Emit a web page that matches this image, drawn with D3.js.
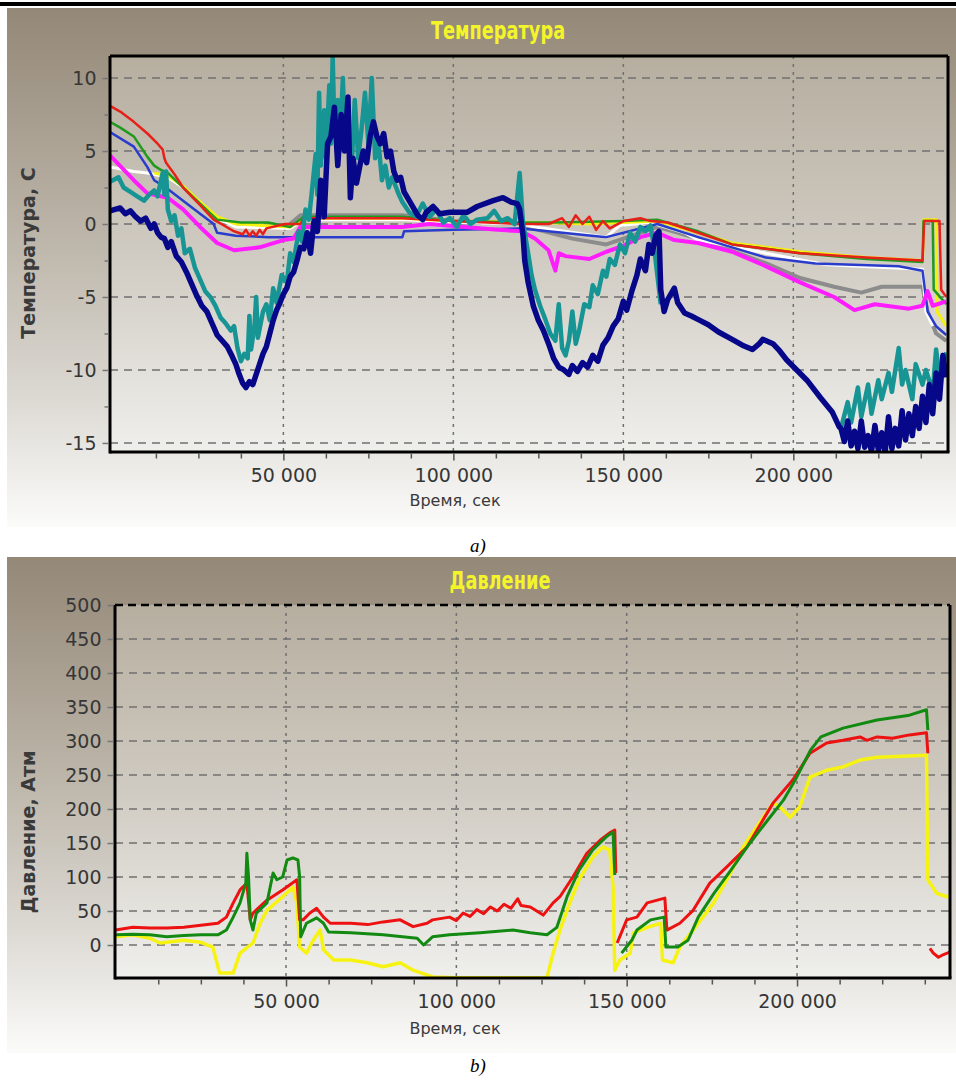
<!DOCTYPE html>
<html>
<head>
<meta charset="utf-8">
<script src="https://cdn.jsdelivr.net/npm/d3@7"></script>
<style>
  body { margin: 0; background: #fff; }
  svg { display: block; }
  .tick text { font-family: "DejaVu Sans", Verdana, sans-serif; font-size: 19px; fill: #363636; }
</style>
</head>
<body>
<svg id="page" width="956" height="1084"></svg>
<script>
// ---- data: time in thousands of seconds, value ----
const timeTicks = [50000, 100000, 150000, 200000];
const tempTicks = [-15, -10, -5, 0, 5, 10];
const pressTicks = [0, 50, 100, 150, 200, 250, 300, 350, 400, 450, 500];

const tempRed = [[-1,8.1],[2,7.7],[6,7.0],[10,6.2],[13,5.5],[14.5,5.1],[15,4.5],[15.5,4.2],[18,3.4],[20.5,2.5],[25.5,1.3],[29.5,0.3],[32.5,-0.1],[35.5,-0.5],[38,-0.7],[39,-0.4],[40,-0.8],[41,-0.5],[42,-0.8],[43,-0.4],[44,-0.7],[45,-0.3],[50.5,0.0],[55,0.0],[56,0.4],[85,0.4],[100,0.2],[120,0.0],[128,0.0],[132,0.4],[134,-0.2],[136,0.6],[138,0.0],[140,0.5],[142,-0.4],[144,0.2],[146,-0.3],[150,0.2],[155,0.4],[158,0.2],[163,0.1],[172,-0.6],[182,-1.4],[202,-2.0],[221.5,-2.3],[238,-2.5],[238.5,0.2],[243,0.2],[243.5,-4.5],[245,-5.0]];
const tempGreen = [[-1,7.0],[2,6.6],[6,6.0],[10,4.6],[12,4.0],[14,3.7],[16,3.5],[20.5,2.5],[25.5,1.4],[30.5,0.3],[37.5,0.1],[45.5,0.1],[52,-0.2],[56,0.5],[85,0.5],[100,0.2],[120,0.1],[130,0.1],[150,0.2],[160,0.3],[172,-0.5],[182,-1.4],[202,-2.0],[221.5,-2.4],[238,-2.6],[238.3,0.2],[241,0.2],[241.3,-4.5],[245,-5.5]];
const tempYellow = [[12,3.5],[16,3.3],[20.5,2.6],[25.5,1.5],[30.5,0.5],[36,0.0],[44,-0.1],[52,-0.2],[56,0.4],[85,0.4],[100,0.2],[125,0.1],[140,0.0],[150,0.1],[160,0.2],[172,-0.6],[182,-1.3],[202,-1.9],[221.5,-2.3],[238,-2.5],[238.4,0.3],[242,0.3],[242.3,-6],[245,-7]];
const tempWhite = [[-1,3.9],[6,3.6],[10,3.5],[16,3.2],[20.5,2.5],[25.5,1.5],[30.5,0.4],[36,-0.2],[52,-0.3],[56,0.3],[85,0.3],[100,0.1],[120,0.0],[124,-0.2],[145,-0.9],[149,-0.1],[158,0.1],[168,-0.6],[172,-1.1],[192,-2.0],[210,-2.8],[238,-3.1],[239,-6],[241,-7]];
const tempBlue = [[-1,6.3],[6,5.3],[10,3.9],[12,3.0],[16,2.4],[20.5,1.6],[25.5,0.7],[29.5,0.0],[30.5,-0.6],[36,-0.8],[45.5,-0.9],[51,-0.9],[56,-0.9],[85,-0.9],[85.5,-0.5],[100,-0.4],[120,-0.3],[145,-0.9],[160,0.0],[172,-0.9],[192,-2.3],[206.5,-2.7],[231,-2.9],[238,-3.2],[239.5,-6.0],[242,-7.0],[245,-7.6]];
const tempMagenta = [[-1,4.7],[6,3.0],[10,2.1],[16,1.8],[20.5,1.0],[25.5,-0.2],[30.5,-1.3],[35.5,-1.8],[43,-1.6],[50,-1.1],[53,-1.0],[55,-0.2],[85,-0.2],[93,0.0],[113,-0.4],[120,-0.5],[124,-1.0],[128,-1.8],[130,-3.2],[131,-2.0],[133,-2.2],[140,-2.4],[145,-1.9],[150,-1.5],[155,-0.9],[160,-0.6],[165,-1.1],[172,-1.3],[182,-1.9],[192,-2.9],[202,-4.0],[212,-5.0],[218,-5.9],[224,-5.5],[234,-5.8],[238,-5.6],[239.5,-4.6],[241,-5.6],[245,-5.3]];
const tempGray = [[50,-0.4],[55,0.6],[85,0.6],[100,0.2],[120,0.0],[125,-0.4],[135,-1.0],[145,-1.4],[150,-1.0],[160,-0.2],[172,-1.0],[192,-2.7],[202,-3.7],[212,-4.3],[220,-4.7],[226,-4.3],[238,-4.3],[239.5,-6.0],[242,-7.5],[245,-8.0]];
const tempTeal = [[-1,2.9],[1.5,3.2],[3,2.5],[5,2.2],[7,1.9],[9,1.6],[10.5,2.0],[12,2.3],[13,1.9],[14,3.0],[14.5,3.5],[15,2.0],[15.5,3.6],[16,1.0],[17,0.2],[18,0.6],[19,-0.8],[20,-0.3],[21,-2.0],[22.5,-1.7],[24,-3.0],[25.5,-3.8],[27,-4.6],[28.5,-5.0],[30,-5.6],[31.5,-6.4],[33,-6.8],[34.5,-7.3],[35.5,-7.0],[36.5,-8.5],[37.5,-9.4],[38.5,-8.9],[39.5,-9.2],[40,-6.3],[40.5,-8.6],[41.5,-7.0],[42,-5.0],[42.5,-7.8],[44,-6.0],[45,-5.5],[46,-6.6],[47,-4.4],[48,-5.4],[49.5,-3.5],[51,-4.0],[52,-2.0],[53,-2.6],[54.5,-0.5],[55.5,-1.2],[56.5,1.0],[57.5,0.3],[58.5,2.5],[59.5,4.8],[60,2.0],[60.5,9.0],[61,4.0],[62,7.8],[62.5,4.5],[63.5,9.5],[64,5.5],[64.5,11.5],[65,6.5],[66,8.5],[66.5,5.0],[67.5,10.0],[68,6.0],[69,7.0],[70,3.5],[71,8.5],[72,4.5],[73,6.5],[74,9.0],[75,5.5],[76,10.0],[77,4.5],[78,5.5],[79,3.0],[80,4.0],[81,2.5],[82,3.2],[84,2.0],[85,1.5],[87,0.8],[89,0.5],[91,1.4],[93,0.5],[95,1.0],[97,0.1],[99,0.4],[101,-0.2],[103,0.6],[105,0.0],[107,0.3],[110,0.4],[112,0.9],[114,0.2],[116,0.4],[118,0.0],[119.5,3.5],[120.5,0.0],[121,-0.6],[122,-2.0],[123,-3.5],[124,-4.5],[125.5,-5.6],[127,-6.5],[128.5,-7.5],[130,-8.0],[131,-5.5],[132,-8.5],[133,-9.0],[134,-8.0],[135,-6.0],[136,-8.2],[137,-7.3],[138.5,-5.5],[140,-5.7],[141,-4.2],[142.5,-4.8],[144,-3.2],[145,-3.6],[146,-2.4],[147.5,-2.8],[149,-1.4],[150.5,-2.0],[152,-0.6],[153.5,-1.2],[155,-0.2],[156.5,-0.5],[158,-0.1],[159,-1.5],[160,-3.5],[161,-5.5],null,[214,-14.0],[216,-12.2],[217,-13.6],[219,-11.2],[220,-13.2],[222,-11.0],[223,-13.0],[225,-10.7],[226,-12.0],[228,-10.2],[229,-11.5],[231,-8.5],[232,-11.0],[233,-10.0],[235,-12.0],[236,-9.6],[238,-11.0],[239,-10.0],[241,-11.5],[242,-8.6],[243,-10.5],[245,-8.8]];
const tempNavy = [[-1,0.9],[2,1.1],[3.5,0.7],[5,0.9],[6.5,0.5],[8,0.2],[9.5,0.4],[11,-0.3],[12,0.0],[13,-0.6],[14,-0.9],[15,-1.0],[16,-1.6],[17,-1.2],[18.5,-2.2],[20,-2.6],[21.5,-3.3],[23,-4.1],[24.5,-4.9],[26,-5.6],[27.5,-6.0],[29,-6.8],[30.5,-7.6],[32,-8.0],[33.5,-8.4],[35,-9.1],[36,-9.6],[37,-10.3],[38,-10.9],[39,-11.2],[40,-10.8],[41,-11.0],[42,-10.3],[43,-9.6],[44,-8.9],[45,-8.4],[46,-7.5],[47,-6.6],[48,-5.9],[49,-5.4],[50,-4.8],[51,-4.4],[52,-3.6],[53,-3.3],[54,-2.5],[55,-1.6],[56,-1.7],[57,-0.6],[58,-2.0],[59,0.2],[60,-0.5],[61,3.0],[62,0.5],[63,5.5],[64,6.0],[65,8.0],[66,4.0],[67,7.5],[68,5.0],[69,8.7],[69.7,1.8],[70.5,4.5],[71.5,2.8],[72.5,4.0],[73.5,5.0],[74.5,4.2],[75.5,6.0],[76.5,7.0],[77.5,6.0],[78.5,5.5],[79.5,6.2],[80.5,4.6],[81.5,5.0],[82.5,3.6],[83.5,3.0],[84.5,3.2],[85.5,2.2],[86.5,1.8],[88,1.2],[89.5,0.6],[91,0.3],[92,0.8],[94,1.2],[96,0.7],[99,0.8],[104,0.8],[107,1.2],[111.7,1.6],[114.6,1.8],[117,1.5],[118.8,1.4],[119.5,1.0],[120.5,-0.8],[121,-2.5],[122,-4.0],[123.5,-5.6],[125,-6.6],[126.5,-7.3],[128,-8.2],[129.5,-9.2],[131,-9.8],[132.5,-10.0],[134,-10.3],[135,-9.7],[136.5,-10.1],[138,-9.5],[139.5,-9.8],[141,-9.0],[142.5,-9.4],[144,-8.3],[145.5,-7.8],[147,-7.0],[148.5,-6.5],[150,-5.3],[151,-5.9],[152.5,-4.6],[154,-3.5],[155,-2.4],[156.5,-3.2],[157.5,-1.4],[158.5,-2.0],[159.5,-0.8],[160.5,-0.5],[161,-4.5],[162,-6.0],[163,-5.2],[165,-4.4],[166,-5.4],[168,-6.1],[170,-6.3],[172.5,-6.6],[175,-6.9],[178,-7.4],[182,-7.9],[185,-8.3],[188,-8.6],[190,-8.2],[191,-7.9],[194,-8.2],[196,-8.7],[198,-9.3],[201,-10.0],[204,-10.7],[208,-11.9],[211.5,-12.9],[213.5,-13.9],[214,-14.0],[215,-14.9],[216,-13.5],[217,-15.2],[218,-14.2],[219,-15.4],[220,-13.5],[221,-15.3],[222,-14.5],[223,-15.6],[224,-13.8],[225,-15.5],[226,-14.3],[227,-15.7],[228,-13.2],[229,-15.4],[230,-14.0],[231,-15.2],[232,-12.8],[233,-14.8],[234,-13.0],[235,-14.5],[236,-12.5],[237,-14.0],[238,-11.8],[239,-13.6],[240,-11.0],[241,-13.0],[242,-10.2],[243,-12.0],[244,-9.0],[245,-10.5]];

const pressRed = [[0,22],[5,26],[10,25],[15,25],[20,26],[25,29],[30,32],[32.5,41],[34.5,62],[36.5,81],[38.5,91],[39.5,37],[40.3,47],[44.4,66],[49,81],[53.2,96],[54,37],[55,37],[57,47],[59,54],[61,41],[63,32],[69,32],[74,30],[78.5,34],[83.5,37],[87.3,27],[91.4,32],[93,37],[98,41],[100,36],[102,47],[104,42],[106,52],[108,46],[110,56],[112,50],[114,60],[116,54],[118,68],[119,58],[121.7,56],[125.5,44],[128.4,62],[130.4,71],[134.2,100],[138.3,135],[142.2,154],[145,165],[146.5,169],[146.8,106],null,[147.2,3],[150,37],[153,41],[156,62],[159,66],[161.2,69],[161.8,22],[165.6,32],[169.5,51],[174.4,91],[179.4,115],[185.3,144],[190,184],[193,209],[198.8,243],[203.8,282],[208.7,297],[213.5,301],[218.5,306],[220.5,301],[223.5,306],[228,304],[233,309],[238,312],[238.4,282],null,[239,-5],[240,-12],[241.5,-18],[243,-14],[245,-10]];
const pressGreen = [[0,15],[5,16],[10,15],[15,12],[20,14],[25,15],[30,15],[32.5,22],[34.5,41],[36.5,62],[38.2,91],[38.5,135],[39,100],[39.5,37],[40.3,22],[41.3,47],[44.4,62],[46.2,106],[47.3,96],[49,100],[50.3,125],[52,128],[53.5,125],[54,100],[54.3,12],[56,32],[59,40],[61,32],[62.5,19],[69,18],[78.5,15],[88.5,10],[90.4,0],[93,12],[98,15],[107,18],[116.6,22],[121.7,18],[126.6,15],[129.5,26],[132.5,71],[136,110],[140,140],[144,159],[146,166],[146.5,103],null,[148.5,-12],[151.5,7],[153,22],[157,37],[161,41],[161.5,-3],[165,-3],[168,7],[171,41],[175.6,76],[180.6,110],[185.3,144],[190.5,178],[196,213],[199.5,243],[204,287],[207,306],[213.5,319],[223.5,331],[233,338],[238,346],[238.4,316]];
const pressYellow = [[0,12],[5,15],[10,10],[13,3],[20,7],[25,4],[28.5,-3],[29.5,-22],[30.5,-41],[34.5,-41],[36.5,-12],[40.3,3],[42.4,32],[44.4,51],[49,71],[52,85],[53.2,62],[54,-3],[56,-12],[58,7],[60,22],[61,-7],[64,-22],[69,-22],[73.8,-26],[78.5,-32],[83.5,-26],[87.3,-37],[93,-47],[100,-48],[126.6,-48],[128.4,-12],[130.4,22],[133.3,62],[136,96],[140,129],[143,144],[145,140],[146,85],[146.5,-37],[148,-22],[151,-12],[152,18],[156,26],[160,32],[160.5,-22],[163.6,-26],[165.6,-3],[169.5,22],[175.5,62],[180.5,106],[184.2,144],[193,209],[195,203],[198,188],[200.8,203],[203.8,247],[208.7,257],[213.5,262],[218.5,272],[223.5,276],[238,279],[238.4,96],[241,76],[244,71],[245,73]];

// ---- page ----
const svg = d3.select("#page");
const defs = svg.append("defs");

const panelGrad = defs.append("linearGradient").attr("id", "panelGrad")
  .attr("x1", 0).attr("y1", 0).attr("x2", 0).attr("y2", 1);
[[0, "#948877"], [0.45, "#bdb6aa"], [0.75, "#dcd9d3"], [1, "#fbfbfa"]]
  .forEach(([o, c]) => panelGrad.append("stop").attr("offset", o).attr("stop-color", c));

const plotGrad = defs.append("linearGradient").attr("id", "plotGrad")
  .attr("x1", 0).attr("y1", 0).attr("x2", 0).attr("y2", 1);
[[0, "#b6ae9f"], [0.5, "#d0cbc2"], [1, "#efefec"]]
  .forEach(([o, c]) => plotGrad.append("stop").attr("offset", o).attr("stop-color", c));

svg.append("rect").attr("x", 0).attr("y", 2).attr("width", 956).attr("height", 4).attr("fill", "#000");

const fmtTime = (d) => d3.format(",")(d).replace(/,/g, " ");

function drawChart(cfg) {
  const g = svg.append("g");
  const p = cfg.plot;

  g.append("rect")
    .attr("x", cfg.panel.x).attr("y", cfg.panel.y)
    .attr("width", cfg.panel.w).attr("height", cfg.panel.h)
    .attr("fill", "url(#panelGrad)");

  // condensed yellow title
  g.append("text")
    .attr("transform", `translate(${cfg.titleX},${cfg.titleY}) scale(0.74,1)`)
    .attr("text-anchor", "middle")
    .attr("font-family", "'DejaVu Sans', sans-serif")
    .attr("font-weight", "bold").attr("font-size", 24)
    .attr("fill", "#f4f42a")
    .text(cfg.title);

  const x = d3.scaleLinear().domain(cfg.xDomain).range([p.left, p.right]);
  const y = d3.scaleLinear().domain(cfg.yDomain).range([p.bottom, p.top]);

  g.append("rect")
    .attr("x", p.left).attr("y", p.top)
    .attr("width", p.right - p.left).attr("height", p.bottom - p.top)
    .attr("fill", "url(#plotGrad)");

  // grid
  g.append("g").selectAll("line").data(cfg.yTicks.filter((d) => d !== cfg.yDomain[1]))
    .join("line")
    .attr("x1", p.left).attr("x2", p.right)
    .attr("y1", (d) => y(d)).attr("y2", (d) => y(d))
    .attr("stroke", "#707070").attr("stroke-width", 1.5).attr("stroke-dasharray", "8,6");
  g.append("g").selectAll("line").data(timeTicks)
    .join("line")
    .attr("x1", (d) => x(d)).attr("x2", (d) => x(d))
    .attr("y1", p.top).attr("y2", p.bottom)
    .attr("stroke", "#707070").attr("stroke-width", 1.5).attr("stroke-dasharray", "3,5");

  // series
  const clipId = "clip" + cfg.id;
  defs.append("clipPath").attr("id", clipId).append("rect")
    .attr("x", p.left).attr("y", p.top)
    .attr("width", p.right - p.left).attr("height", p.bottom - p.top);

  const line = d3.line()
    .defined((d) => d !== null)
    .x((d) => x(d[0] * 1000))
    .y((d) => y(d[1]));

  const lines = g.append("g").attr("clip-path", `url(#${clipId})`);
  cfg.series.forEach((s) => {
    lines.append("path")
      .datum(s.data)
      .attr("fill", "none")
      .attr("stroke", s.color)
      .attr("stroke-width", s.width)
      .attr("stroke-linejoin", "round")
      .attr("d", line);
  });

  // frame
  const frame = g.append("g").attr("stroke", "#000").attr("stroke-width", 3).attr("fill", "none");
  frame.append("line").attr("x1", p.left).attr("x2", p.left).attr("y1", p.top).attr("y2", p.bottom + 1.5);
  frame.append("line").attr("x1", p.left).attr("x2", p.right + 1.5).attr("y1", p.bottom).attr("y2", p.bottom);
  frame.append("line").attr("x1", p.right).attr("x2", p.right).attr("y1", p.top).attr("y2", p.bottom);
  if (cfg.solidTop) {
    frame.append("line").attr("x1", p.left).attr("x2", p.right).attr("y1", p.top).attr("y2", p.top);
  } else {
    frame.append("line").attr("x1", p.left).attr("x2", p.right).attr("y1", p.top).attr("y2", p.top)
      .attr("stroke-width", 2.5).attr("stroke-dasharray", "8,5");
  }

  // axes
  const xAxis = g.append("g").attr("transform", `translate(0,${p.bottom + 1.5})`)
    .call(d3.axisBottom(x).tickValues(timeTicks).tickFormat(fmtTime).tickSize(7).tickPadding(8));
  xAxis.select(".domain").remove();
  xAxis.selectAll(".tick line").attr("stroke", "#555").attr("stroke-width", 1.5);

  const minorX = d3.range(12500, cfg.xDomain[1], 12500).filter((d) => d % 50000 !== 0);
  const xMinor = g.append("g").attr("transform", `translate(0,${p.bottom + 1.5})`)
    .call(d3.axisBottom(x).tickValues(minorX).tickFormat("").tickSize(5));
  xMinor.select(".domain").remove();
  xMinor.selectAll(".tick line").attr("stroke", "#555").attr("stroke-width", 1.5);

  const yAxis = g.append("g").attr("transform", `translate(${p.left - 1.5},0)`)
    .call(d3.axisLeft(y).tickValues(cfg.yTicks).tickFormat((d) => String(d)).tickSize(6).tickPadding(6));
  yAxis.select(".domain").remove();
  yAxis.selectAll(".tick line").attr("stroke", "#777").attr("stroke-width", 1.5);

  if (cfg.yMinor) {
    const yMinor = g.append("g").attr("transform", `translate(${p.left - 1.5},0)`)
      .call(d3.axisLeft(y).tickValues(cfg.yMinor).tickFormat("").tickSize(4));
    yMinor.select(".domain").remove();
    yMinor.selectAll(".tick line").attr("stroke", "#777").attr("stroke-width", 1.5);
  }

  g.append("text")
    .attr("x", cfg.xLabelX).attr("y", cfg.xLabelY)
    .attr("text-anchor", "middle")
    .attr("font-family", "'DejaVu Sans', Verdana, sans-serif")
    .attr("font-size", 16).attr("fill", "#3a3a3a")
    .text("Время, сек");

  g.append("text")
    .attr("transform", `translate(${cfg.yLabelX},${cfg.yLabelY}) rotate(-90) scale(0.95,1)`)
    .attr("text-anchor", "middle")
    .attr("font-family", "'DejaVu Sans', sans-serif")
    .attr("font-weight", "bold").attr("font-size", 20).attr("fill", "#3a3a3a")
    .text(cfg.yLabel);

  svg.append("text")
    .attr("x", 478).attr("y", cfg.captionY)
    .attr("text-anchor", "middle")
    .attr("font-family", "'Liberation Serif', 'Times New Roman', serif")
    .attr("font-style", "italic").attr("font-size", 19).attr("fill", "#000")
    .text(cfg.caption);
}

drawChart({
  id: "temp",
  panel: { x: 7, y: 8, w: 949, h: 519 },
  plot: { left: 110, right: 948, top: 56, bottom: 452 },
  title: "Температура", titleX: 498, titleY: 39,
  xDomain: [-1000, 245500],
  yDomain: [-15.62, 11.51],
  yTicks: tempTicks,
  yMinor: [-12.5, -7.5, -2.5, 2.5, 7.5],
  solidTop: true,
  yLabel: "Температура, С", yLabelX: 35, yLabelY: 253,
  xLabelX: 455, xLabelY: 506,
  caption: "a)", captionY: 552,
  series: [
    { data: tempGray, color: "#8c8c8c", width: 4 },
    { data: tempWhite, color: "#ffffff", width: 3 },
    { data: tempYellow, color: "#f4f010", width: 3 },
    { data: tempGreen, color: "#1f9a1f", width: 2.5 },
    { data: tempBlue, color: "#2a3ccc", width: 2.5 },
    { data: tempRed, color: "#e8201a", width: 2.5 },
    { data: tempMagenta, color: "#ff1cff", width: 4 },
    { data: tempTeal, color: "#179494", width: 4.5 },
    { data: tempNavy, color: "#07078a", width: 5.5 }
  ]
});

drawChart({
  id: "press",
  panel: { x: 7, y: 557, w: 949, h: 496 },
  plot: { left: 115, right: 950, top: 605, bottom: 978 },
  title: "Давление", titleX: 500, titleY: 589,
  xDomain: [-200, 244900],
  yDomain: [-48.5, 500],
  yTicks: pressTicks,
  yMinor: null,
  solidTop: false,
  yLabel: "Давление, Атм", yLabelX: 35, yLabelY: 832,
  xLabelX: 455, xLabelY: 1034,
  caption: "b)", captionY: 1072,
  series: [
    { data: pressYellow, color: "#f6f312", width: 3.5 },
    { data: pressRed, color: "#ee1111", width: 3 },
    { data: pressGreen, color: "#128a12", width: 3 }
  ]
});
</script>
</body>
</html>
